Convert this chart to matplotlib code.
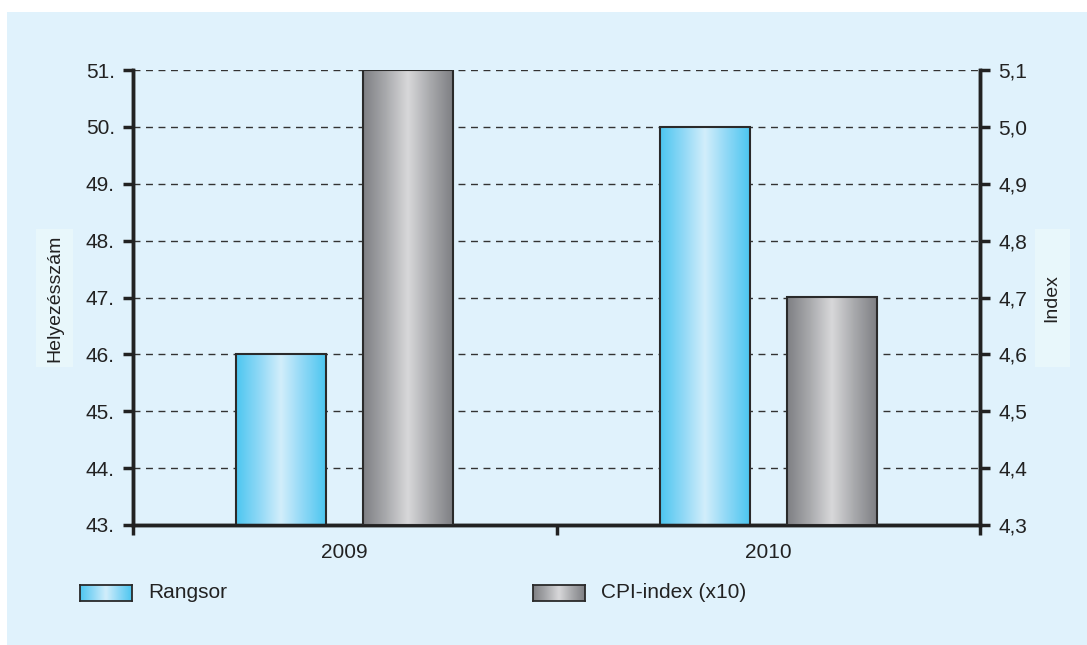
import numpy as np
import matplotlib
matplotlib.use("Agg")
import matplotlib.pyplot as plt
from matplotlib.patches import Rectangle
from matplotlib.colors import LinearSegmentedColormap

categories = ["2009", "2010"]
rangsor = [46, 50]
cpi = [5.1, 4.7]
left_ticks = [43, 44, 45, 46, 47, 48, 49, 50, 51]
left_labels = ["43.", "44.", "45.", "46.", "47.", "48.", "49.", "50.", "51."]
right_ticks = [4.3, 4.4, 4.5, 4.6, 4.7, 4.8, 4.9, 5.0, 5.1]
right_labels = ["4,3", "4,4", "4,5", "4,6", "4,7", "4,8", "4,9", "5,0", "5,1"]

plt.rcParams['font.family'] = ['Liberation Sans', 'DejaVu Sans']
W, H = 1087, 645
fig = plt.figure(figsize=(W / 100, H / 100), dpi=100)
fig.patch.set_facecolor("white")
bg = "#E0F2FC"
fig.add_artist(Rectangle((7 / W, 0), 1, 1 - 12 / H, transform=fig.transFigure,
                         facecolor=bg, edgecolor="none", zorder=-10))

ax = fig.add_axes([133 / W, 120 / H, 847 / W, 455 / H])
ax.set_facecolor(bg)
ax2 = ax.twinx()
ax.set_zorder(1)
ax2.set_zorder(2)
ax2.patch.set_visible(False)

blue_cmap = LinearSegmentedColormap.from_list(
    "b", ["#4CC6F0", "#8ED8F6", "#D2EEFB", "#8ED8F6", "#4CC6F0"])
gray_cmap = LinearSegmentedColormap.from_list(
    "g", ["#7E7F83", "#A8A9AC", "#D8D8DA", "#A8A9AC", "#7E7F83"])
grad = np.linspace(0, 1, 256).reshape(1, -1)

bw = 0.2125
off = 0.15
x = np.arange(len(categories))


def gbar(a, xc, y0, y1, cmap):
    a.imshow(grad, cmap=cmap, aspect="auto", extent=(xc - bw / 2, xc + bw / 2, y0, y1),
             zorder=3, interpolation="bicubic")
    a.add_patch(Rectangle((xc - bw / 2, y0), bw, y1 - y0, facecolor="none",
                          edgecolor="#2a2a2a", linewidth=1.5, zorder=4))


for i in range(len(categories)):
    gbar(ax, x[i] - off, 43, rangsor[i], blue_cmap)
    gbar(ax2, x[i] + off, 4.3, cpi[i], gray_cmap)

ax.set_xlim(-0.5, 1.5)
ax.set_ylim(43, 51)
ax2.set_xlim(-0.5, 1.5)
ax2.set_ylim(4.3, 5.1)

for t in left_ticks:
    ax.axhline(t, color="#333333", linewidth=1.0, dashes=(5, 4), zorder=1)

fs = 15
ax.set_yticks(left_ticks)
ax.set_yticklabels(left_labels)
ax2.set_yticks(right_ticks)
ax2.set_yticklabels(right_labels)
ax.set_xticks([-0.5, 0.5, 1.5])
ax.set_xticklabels([])
ax.set_xticks(x, minor=True)
ax.set_xticklabels(categories, minor=True)
ax.tick_params(axis="x", which="minor", length=0, pad=13, labelsize=fs, labelcolor="#222222")
ax.tick_params(axis="x", which="major", length=7, width=2.5, color="#222222", direction="out")
ax.tick_params(axis="y", length=7, width=2.5, color="#222222", labelsize=fs, pad=6,
               labelcolor="#222222")
ax2.tick_params(axis="y", length=7, width=2.5, color="#222222", labelsize=fs, pad=6,
                labelcolor="#222222")

for a in (ax, ax2):
    a.spines["top"].set_visible(False)
    for s in ("left", "right", "bottom"):
        a.spines[s].set_linewidth(2.5)
        a.spines[s].set_color("#222222")

# axis title boxes
boxc = "#E8F7FB"
fig.add_artist(Rectangle((36 / W, 1 - 367 / H), 37 / W, 138 / H, transform=fig.transFigure,
                         facecolor=boxc, edgecolor="none", zorder=-5))
fig.add_artist(Rectangle((1035 / W, 1 - 367 / H), 35 / W, 138 / H, transform=fig.transFigure,
                         facecolor=boxc, edgecolor="none", zorder=-5))
lab_kw = dict(fontsize=14, color="#222222", rotation=90, ha="center", va="center",
              family=['Liberation Sans Narrow', 'Liberation Sans', 'DejaVu Sans'])
fig.text(55 / W, 1 - 298 / H, "Helyezésszám", **lab_kw)
fig.text(1052 / W, 1 - 298 / H, "Index", **lab_kw)


# legend
def leg(xp, label, cmap, tx):
    lax = fig.add_axes([xp / W, 1 - 601 / H, 52 / W, 16 / H])
    lax.imshow(grad, cmap=cmap, aspect="auto", extent=(0, 1, 0, 1), interpolation="bicubic")
    lax.set_xticks([]); lax.set_yticks([])
    for s in lax.spines.values():
        s.set_color("#2a2a2a"); s.set_linewidth(1.3)
    fig.text(tx / W, 1 - 593 / H, label, fontsize=fs, color="#222222", va="center", ha="left")


leg(80, "Rangsor", blue_cmap, 148)
leg(533, "CPI-index (x10)", gray_cmap, 601)

fig.savefig("out.png", dpi=100, facecolor=fig.get_facecolor())
